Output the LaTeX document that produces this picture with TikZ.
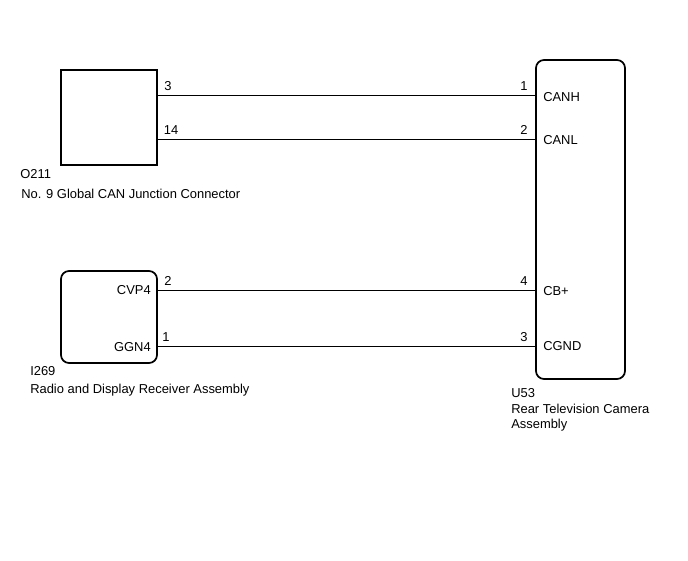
\documentclass[tikz,border=0pt]{standalone}
\usepackage{fontspec}
\setmainfont{Liberation Sans}
\begin{document}
\begin{tikzpicture}[x=0.75pt,y=-0.75pt,
  box/.style={draw,line width=1.3pt},
  wire/.style={draw,line width=0.6pt},
  t/.style={font=\fontsize{9.7}{11}\selectfont,inner sep=0pt},
  tl/.style={t,anchor=west},
  pn/.style={t,anchor=south}]
\useasboundingbox (0,0) rectangle (688,560);
\draw[box] (61,70) rectangle (157,165);
\draw[box,rounded corners=6pt] (61,271) rectangle (157,363);
\draw[box,rounded corners=6pt] (536,60) rectangle (625,379);
\coordinate (a1) at (157,95); \coordinate (b1) at (536,95);
\coordinate (a2) at (157,139); \coordinate (b2) at (536,139);
\coordinate (a3) at (157,290); \coordinate (b3) at (536,290);
\coordinate (a4) at (157,346); \coordinate (b4) at (536,346);
\draw[wire] (a1)--(b1); \draw[wire] (a2)--(b2);
\draw[wire] (a3)--(b3); \draw[wire] (a4)--(b4);
\node[pn] at (168,91) {3}; \node[pn] at (171,135) {14};
\node[pn] at (524,91) {1}; \node[pn] at (524,135) {2};
\node[pn] at (168,286) {2}; \node[pn] at (524,286) {4};
\node[pn] at (166,342) {1}; \node[pn] at (524,342) {3};
\node[tl] at (543,97) {CANH};
\node[tl] at (543,140) {CANL};
\node[tl] at (543,291) {CB+};
\node[tl] at (543,346) {CGND};
\node[t,anchor=east] at (151,290) {CVP4};
\node[t,anchor=east] at (151,347) {GGN4};
\node[tl] at (20,174) {O211};
\node[tl] at (21,194) {No. 9 Global CAN Junction Connector};
\node[tl] at (30,371) {I269};
\node[tl] at (30,390) {Radio and Display Receiver Assembly};
\node[tl] at (511,393) {U53};
\node[tl] at (511,409) {Rear Television Camera};
\node[tl] at (511,425) {Assembly};
\end{tikzpicture}
\end{document}
